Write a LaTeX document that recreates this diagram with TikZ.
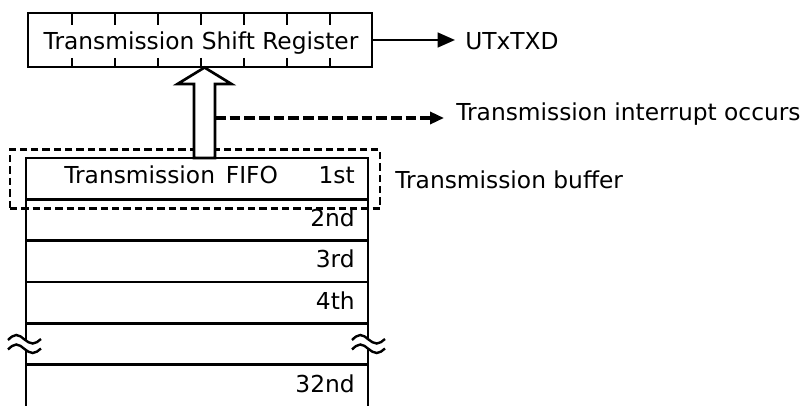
\documentclass[tikz,border=0pt]{standalone}
\usepackage{fontspec}
\setmainfont{DejaVu Sans}
\usetikzlibrary{arrows.meta}
\begin{document}
\begin{tikzpicture}[x=0.75pt,y=-0.75pt,
  lbl/.style={inner sep=0pt, font=\fontsize{17.5}{20}\selectfont},
  box/.style={draw, line width=2pt, rectangle, inner sep=0pt},
  row/.style={box, minimum width=256.5pt, minimum height=31pt},
  tick/.style={line width=1.8pt},
  brk/.style={line width=1.8pt},
  ]
\useasboundingbox (0,0) rectangle (806,406);
\clip (0,0) rectangle (806,406);
\fill[white] (0,0) rectangle (806,406);

% shift register
\node[box, minimum width=258pt, minimum height=40.5pt] (sr) at (200,40) {};
\foreach \x in {72,115,158,201,244,287,330}{
  \draw[tick] (\x,13) -- (\x,25);
  \draw[tick] (\x,58) -- (\x,67);
}
\node[lbl, anchor=base] (srt) at (201,49.5) {Transmission Shift Register};
\node[lbl, anchor=base west] (utx) at (465,49.5) {UTxTXD};
\draw[line width=1.8pt, -{Triangle[length=13pt,width=11pt]}, shorten >=7.5pt]
  (sr.east) -- (sr.east -| utx.west);

% buffer (dashed)
\node[draw, line width=1.9pt, dash pattern=on 5.5pt off 3pt, minimum width=277.5pt, minimum height=44.25pt, inner sep=0pt] (buf) at (195,179) {};
\node[lbl, anchor=base west] (buft) at (395,188) {Transmission buffer};

% FIFO rows
\node[row] (r1) at (197,178.65) {};
\node[row] (r2) at (197,219.95) {};
\node[row] (r3) at (197,261.25) {};
\node[row] (r4) at (197,302.55) {};
\node[row] (r5) at (197,343.85) {};
\node[row, minimum height=35pt] (r6) at (197,387.8) {};

\node[lbl, anchor=base west] (fifo) at (64,184) {Transmission\hspace{0.15em} FIFO};
\node[lbl, anchor=base east] (t1) at (355,184) {1st};
\node[lbl, anchor=base east] (t2) at (355,226) {2nd};
\node[lbl, anchor=base east] (t3) at (355,267.5) {3rd};
\node[lbl, anchor=base east] (t4) at (355,309) {4th};
\node[lbl, anchor=base east] (t6) at (355,392) {32nd};

% break marks
\foreach \x in {8,352}{
  \fill[white] (\x,340) sin (\x+8.25,335) cos (\x+16.5,339.5) sin (\x+24.75,343.5) cos (\x+33,339)
    -- (\x+33,348.5) sin (\x+24.75,353) cos (\x+16.5,349) sin (\x+8.25,344.5) cos (\x,349.5) -- cycle;
  \draw[brk] (\x,340) sin (\x+8.25,335) cos (\x+16.5,339.5) sin (\x+24.75,343.5) cos (\x+33,339);
  \draw[brk] (\x,349.5) sin (\x+8.25,344.5) cos (\x+16.5,349) sin (\x+24.75,353) cos (\x+33,348.5);
}

% hollow arrow from FIFO to shift register
\coordinate (tip) at (204.5,67.5);
\coordinate (ds) at (215,118);
\draw[fill=white, line width=2pt, line join=miter]
  (tip) -- (231.5,84) -- (215,84) -- (215,158) -- (194,158) -- (194,84) -- (177.5,84) -- cycle;

% interrupt arrow
\node[lbl, anchor=base west] (intt) at (456,121) {Transmission interrupt occurs};
\draw[line width=2.5pt, dash pattern=on 8pt off 3pt, -{Triangle[length=10.5pt,width=9pt]}, shorten >=9pt]
  (ds) -- (ds -| intt.west);
\end{tikzpicture}
\end{document}
